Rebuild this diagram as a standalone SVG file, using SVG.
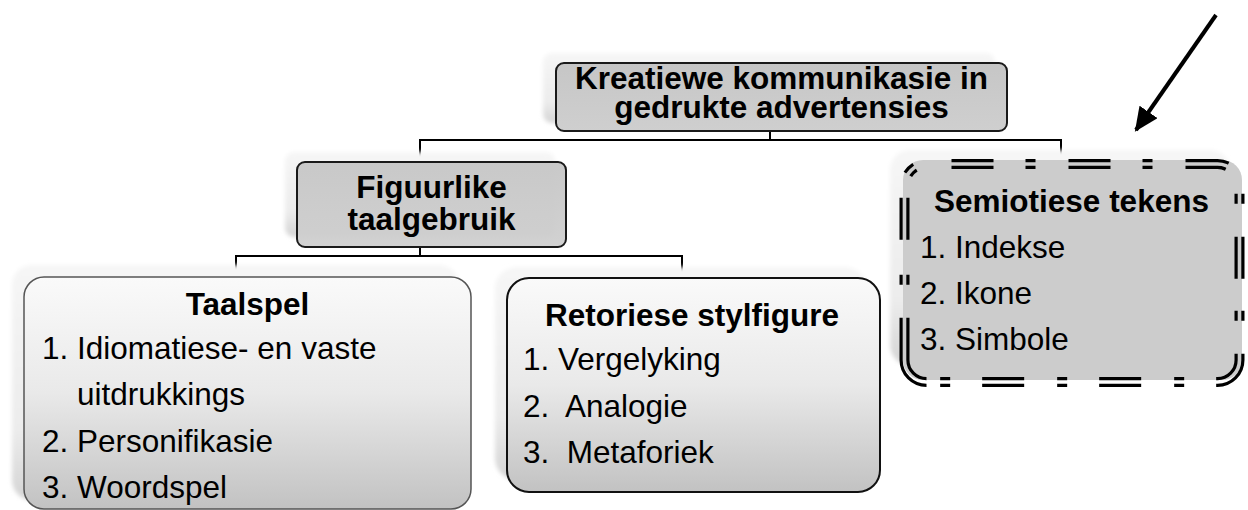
<svg xmlns="http://www.w3.org/2000/svg" width="1248" height="510" viewBox="0 0 1248 510">
<style>
  text { font-family: "Liberation Sans", Arial, sans-serif; fill: #000; }
  .hdr { font-weight: bold; font-size: 31.5px; text-anchor: middle; }
  .itm { font-size: 31.5px; white-space: pre; }
  .conn { stroke: #000; stroke-width: 2; fill: none; }
  .shadow { fill: url(#gShadow); filter: url(#blur); }
  .dbl { stroke: #000; stroke-width: 10; fill: none; }
</style>
<defs>
  <linearGradient id="gShadow" x1="0" y1="0" x2="0" y2="1">
    <stop offset="0" stop-color="#f6f6f6"/>
    <stop offset="0.7" stop-color="#ececec"/>
    <stop offset="1" stop-color="#d4d4d4"/>
  </linearGradient>
  <linearGradient id="gGray" x1="0" y1="0" x2="0" y2="1">
    <stop offset="0" stop-color="#c6c6c6"/>
    <stop offset="1" stop-color="#cfcfcf"/>
  </linearGradient>
  <linearGradient id="gLight" x1="0" y1="0" x2="0" y2="1">
    <stop offset="0" stop-color="#fafafa"/>
    <stop offset="0.5" stop-color="#e9e9e9"/>
    <stop offset="1" stop-color="#c2c2c2"/>
  </linearGradient>
  <filter id="blur" x="-5%" y="-5%" width="110%" height="110%">
    <feGaussianBlur stdDeviation="2"/>
  </filter>
  <marker id="arrow" markerUnits="userSpaceOnUse" markerWidth="26" markerHeight="22" refX="22" refY="11" orient="auto">
    <path d="M0,0 L24,11 L0,22 Z" fill="#000"/>
  </marker>
  <mask id="dbl" maskUnits="userSpaceOnUse" x="0" y="0" width="1248" height="510">
    <path d="M926.5,164 H1217.5 A22,22 0 0 1 1239.5,186 V360 A22,22 0 0 1 1217.5,382 H926.5 A22,22 0 0 1 904.5,360 V186 A22,22 0 0 1 926.5,164 Z" stroke="#fff" stroke-width="12" fill="none"/>
    <path d="M926.5,164 H1217.5 A22,22 0 0 1 1239.5,186 V360 A22,22 0 0 1 1217.5,382 H926.5 A22,22 0 0 1 904.5,360 V186 A22,22 0 0 1 926.5,164 Z" stroke="#000" stroke-width="3.6" fill="none"/>
  </mask>
</defs>

<rect width="1248" height="510" fill="#fff"/>

<g id="connectors">
  <path class="conn" d="M770,131 V140"/>
  <path class="conn" d="M420,162 V140 H1061 V158"/>
  <path class="conn" d="M420,247 V256"/>
  <path class="conn" d="M236,270 V256 H682 V278"/>
  <line x1="1216" y1="15" x2="1136" y2="130" stroke="#000" stroke-width="4" marker-end="url(#arrow)"/>
</g>

<g id="node-kreatiewe">
  <rect class="shadow" x="543" y="53" width="452" height="70" rx="9"/>
  <rect x="556" y="63" width="451" height="68" rx="8" fill="url(#gGray)" stroke="#1a1a1a" stroke-width="2"/>
  <text class="hdr" x="781.5" y="89">Kreatiewe kommunikasie in</text>
  <text class="hdr" x="781.5" y="118">gedrukte advertensies</text>
</g>

<g id="node-figuurlike">
  <rect class="shadow" x="285" y="152" width="270" height="85" rx="9"/>
  <rect x="297" y="162" width="269" height="85" rx="8" fill="url(#gGray)" fill-opacity="0.95" stroke="#1a1a1a" stroke-width="2"/>
  <text class="hdr" x="431.5" y="198">Figuurlike</text>
  <text class="hdr" x="431.5" y="230">taalgebruik</text>
</g>

<g id="node-taalspel">
  <rect class="shadow" x="12" y="265" width="447" height="235" rx="20"/>
  <rect x="24" y="277" width="447" height="232" rx="20" fill="url(#gLight)" stroke="#555" stroke-width="1.5"/>
  <text class="hdr" x="247.5" y="315">Taalspel</text>
  <text class="itm" x="42" y="359">1. Idiomatiese- en vaste</text>
  <text class="itm" x="77" y="405">uitdrukkings</text>
  <text class="itm" x="42" y="452">2. Personifikasie</text>
  <text class="itm" x="42" y="498">3. Woordspel</text>
</g>

<g id="node-retoriese">
  <rect class="shadow" x="495" y="267" width="372" height="213" rx="22"/>
  <rect x="507" y="278" width="373" height="214" rx="22" fill="url(#gLight)" stroke="#111" stroke-width="2"/>
  <text class="hdr" x="692" y="326">Retoriese stylfigure</text>
  <text class="itm" x="523" y="370">1. Vergelyking</text>
  <text class="itm" x="523" y="417">2.  Analogie</text>
  <text class="itm" x="523" y="463">3.  Metaforiek</text>
</g>

<g id="node-semiotiese">
  <rect class="shadow" x="890" y="150" width="340" height="215" rx="20"/>
  <rect x="903" y="160" width="339" height="220" rx="20" fill="#cccccc"/>
  <g mask="url(#dbl)">
    <path class="dbl" d="M926.5,164 H1217.5 A22,22 0 0 1 1239.5,186 V360 A22,22 0 0 1 1217.5,382 H926.5" stroke-dasharray="42 32 10 33" stroke-dashoffset="92"/>
    <path class="dbl" d="M926.5,382 A22,22 0 0 1 904.5,360 V186 A22,22 0 0 1 926.5,164" stroke-dasharray="76.6 33 10 35 42 24 10 30"/>
  </g>
  <text class="hdr" x="1071.5" y="212">Semiotiese tekens</text>
  <text class="itm" x="920" y="258">1. Indekse</text>
  <text class="itm" x="920" y="304">2. Ikone</text>
  <text class="itm" x="920" y="350">3. Simbole</text>
</g>
</svg>
